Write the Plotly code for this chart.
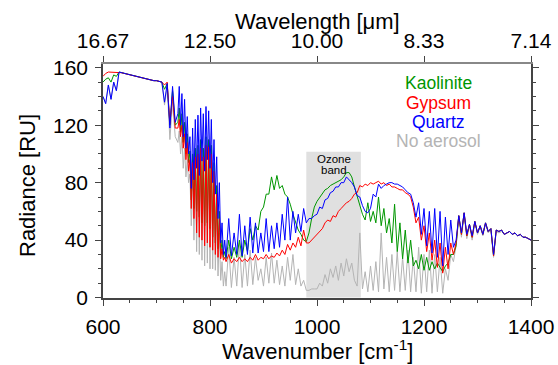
import plotly.graph_objects as go

# Wavenumber sampling grid (cm^-1): 5 cm^-1 steps, 2.5 cm^-1 in the dense 740-830 band
WAVENUMBER = (list(range(600, 740, 5))
              + [740 + 2.5 * k for k in range(36)]
              + list(range(830, 1401, 5)))

QUARTZ = [
    # 600-735
    140, 135, 148, 138, 150, 144, 157, 156.5, 156, 155.5,
    155, 154.5, 154, 153.5, 153, 152.5, 152, 152, 151.5, 151,
    151, 150.5, 150, 136, 149, 118, 147, 122,
    # 740-827.5
    128, 147, 120, 142, 112, 138, 104, 126, 100, 112,
    76, 118, 82, 124, 90, 127, 85, 132, 95, 128,
    88, 133, 96, 130, 90, 124, 80, 110, 72, 98,
    55, 80, 38, 52, 30, 40,
    # 830-1400
    28, 55, 29, 45,
    30, 58, 29, 50, 30, 56, 31, 52, 31, 45,
    32, 55, 32, 50, 34, 52, 35, 58, 40, 70,
    40, 60, 45, 58, 46, 62, 52, 55, 55, 57,
    58, 63, 62, 68, 69, 73, 74, 77, 77, 80,
    80, 84, 82, 80, 77, 71, 70, 64, 60, 59,
    62, 72, 70, 79, 76, 78, 79, 80, 80, 79,
    79, 78, 77, 75, 73, 72, 66, 56, 66, 44,
    62, 36, 60, 31, 62, 28, 60, 22, 56, 30,
    54, 35, 40, 57, 45, 59, 44, 51, 43, 53,
    45, 50, 44, 52, 46, 48, 30, 47, 46, 47,
    44, 45, 46, 44, 45, 43, 44, 42, 42, 41,
    40,
]

GYPSUM = [
    # 600-735
    154, 156, 157, 157, 157, 157, 157, 156.5, 156, 155.5,
    155, 154.5, 154, 153.5, 153, 152.5, 152, 152, 151.5, 151,
    151, 150.5, 150, 148, 150, 121, 140, 118,
    # 740-827.5
    118, 124, 112, 120, 104, 114, 96, 108, 88, 96,
    62, 94, 55, 98, 45, 100, 42, 104, 40, 98,
    36, 106, 38, 105, 35, 100, 33, 88, 30, 72,
    28, 55, 27, 34, 26, 28,
    # 830-1400
    25, 30, 24, 27,
    25, 28, 25, 27, 25, 28, 26, 30, 26, 28,
    27, 30, 27, 29, 28, 31, 29, 33, 30, 37,
    33, 38, 35, 42, 36, 47, 38, 38, 40, 42,
    44, 46, 48, 52, 54, 53, 57, 56, 60, 62,
    64, 66, 67, 69, 72, 73, 78, 77, 79, 78,
    80, 79, 80, 81, 79, 80, 78, 79, 77, 77,
    76, 75, 75, 73, 72, 70, 63, 52, 56, 40,
    50, 32, 45, 26, 40, 21, 38, 17, 35, 20,
    38, 30, 38, 57, 44, 59, 43, 51, 42, 53,
    45, 50, 44, 52, 46, 48, 29, 47, 46, 47,
    44, 45, 46, 44, 45, 43, 44, 42, 42, 41,
    40,
]

KAOLINITE = [
    # 600-735
    150, 152, 153, 150, 155, 154, 157, 156.5, 156, 155.5,
    155, 154.5, 154, 153.5, 153, 152.5, 152, 152, 151.5, 151,
    151, 150.5, 150, 145, 149, 120, 144, 120,
    # 740-827.5
    122, 132, 115, 128, 108, 122, 100, 114, 94, 102,
    68, 100, 62, 104, 60, 106, 56, 110, 52, 104,
    50, 112, 52, 110, 48, 106, 42, 94, 38, 78,
    34, 60, 30, 40, 28, 32,
    # 830-1400
    27, 40, 27, 35,
    28, 40, 28, 40, 32, 48, 40, 50, 47, 60,
    63, 72, 72, 84, 75, 85, 76, 78, 72, 70,
    65, 58, 52, 47, 44, 40, 39, 45, 55, 63,
    67, 70, 73, 75, 76, 78, 79, 80, 81, 82,
    84, 87, 87, 84, 77, 70, 64, 58, 54, 66,
    53, 60, 52, 70, 50, 62, 45, 55, 38, 65,
    32, 52, 27, 47, 24, 40, 22, 26, 20, 30,
    19, 28, 19, 25, 20, 24, 21, 18, 22, 24,
    30, 30, 36, 57, 44, 59, 43, 51, 42, 53,
    45, 50, 44, 52, 46, 48, 29, 47, 46, 47,
    44, 45, 46, 44, 45, 43, 44, 42, 42, 41,
    40,
]

NO_AEROSOL = [
    # 600-735
    140, 135, 148, 138, 150, 144, 157, 156.5, 156, 155.5,
    155, 154.5, 154, 153.5, 153, 152.5, 152, 152, 151.5, 151,
    151, 150.5, 150, 134, 147, 110, 136, 112,
    # 740-827.5
    108, 116, 100, 112, 90, 104, 84, 96, 80, 86,
    50, 82, 40, 88, 32, 90, 30, 95, 26, 88,
    22, 96, 24, 94, 20, 90, 20, 76, 19, 60,
    15, 45, 12, 25, 8, 18,
    # 830-1400
    8, 35, 7, 28,
    8, 38, 7, 30, 8, 33, 9, 28, 12, 20,
    8, 28, 10, 31, 10, 26, 9, 22, 8, 28,
    12, 30, 9, 20, 8, 12, 5, 5, 6, 6,
    6, 10, 8, 16, 10, 20, 14, 22, 12, 24,
    15, 27, 18, 24, 12, 8, 45, 6, 18, 4,
    22, 5, 25, 4, 45, 6, 28, 4, 30, 5,
    32, 4, 28, 5, 33, 4, 28, 4, 35, 3,
    30, 4, 33, 3, 30, 4, 28, 3, 20, 12,
    30, 25, 36, 56, 42, 58, 41, 50, 40, 52,
    44, 49, 43, 51, 45, 47, 28, 46, 45, 46,
    44, 45, 46, 44, 45, 43, 44, 42, 42, 41,
    40,
]

X_TICKS = [600, 800, 1000, 1200, 1400]
Y_TICKS = [0, 40, 80, 120, 160]
OZONE_BAND = [980, 1082]
OZONE_TOP = 101.5

SERIES = [
    ("No aerosol", NO_AEROSOL, "#b4b4b4"),
    ("Kaolinite", KAOLINITE, "#009600"),
    ("Gypsum", GYPSUM, "#ff0000"),
    ("Quartz", QUARTZ, "#0000ff"),
]

FONT = "Liberation Sans, Arial, sans-serif"

fig = go.Figure()
for name, vals, col in SERIES:
    fig.add_trace(go.Scatter(x=WAVENUMBER, y=vals, mode="lines", name=name,
                             line=dict(color=col, width=1), showlegend=False))
# dummy trace so the top (wavelength) axis is drawn
fig.add_trace(go.Scatter(x=[X_TICKS[0], X_TICKS[-1]], y=[None, None], xaxis="x2",
                         mode="lines", showlegend=False, hoverinfo="skip"))

fig.add_shape(type="rect", xref="x", yref="y", x0=OZONE_BAND[0], x1=OZONE_BAND[1],
              y0=0, y1=OZONE_TOP, fillcolor="#e0e0e0", line=dict(width=0), layer="below")

axis_common = dict(showgrid=False, zeroline=False, ticks="outside", ticklen=6,
                   tickcolor="#444", automargin=False,
                   tickfont=dict(family=FONT, size=21, color="black"))

fig.update_layout(
    width=558, height=365,
    margin=dict(l=103, r=27, t=64, b=67),
    paper_bgcolor="white", plot_bgcolor="white",
    showlegend=False,
    xaxis=dict(range=[600, 1400], tickvals=X_TICKS, showline=True, linecolor="#444",
               linewidth=1.5, ticklabelstandoff=3,
               minor=dict(dtick=50, ticklen=3, ticks="outside", tickcolor="#444"),
               **axis_common),
    xaxis2=dict(range=[600, 1400], overlaying="x", side="top", tickvals=X_TICKS,
                ticktext=[f"{1e4 / w:.2f}" for w in X_TICKS], showline=True,
                linecolor="#888", linewidth=2, **axis_common),
    yaxis=dict(range=[-0.3, 162.6], tickvals=Y_TICKS, showline=True, linecolor="#444",
               linewidth=1.5, mirror="ticks", ticklabelstandoff=3,
               minor=dict(dtick=10, ticklen=3, ticks="outside", tickcolor="#444"),
               **axis_common),
)

ann = []
ann.append(dict(text="Wavenumber [cm<sup>-1</sup>]", xref="paper", yref="paper",
                x=0.5, y=(298 - 350) / 234, showarrow=False, xanchor="center",
                yanchor="middle", font=dict(family=FONT, size=22, color="black")))
ann.append(dict(text="Wavelength [\u03bcm]", xref="paper", yref="paper",
                x=0.5, y=(298 - 21) / 234, showarrow=False, xanchor="center",
                yanchor="middle", font=dict(family=FONT, size=22, color="black")))
ann.append(dict(text="Radiance [RU]", xref="paper", yref="paper",
                x=(27 - 103) / 428, y=(298 - 186) / 234, showarrow=False, textangle=-90,
                xanchor="center", yanchor="middle",
                font=dict(family=FONT, size=22, color="black")))
legend_y = [83, 103, 122, 141]
for (name, _, col), py in zip([SERIES[1], SERIES[2], SERIES[3], SERIES[0]], legend_y):
    ann.append(dict(text=name, xref="paper", yref="paper", x=(438 - 103) / 428,
                    y=(298 - py) / 234, showarrow=False, xanchor="center", yanchor="middle",
                    font=dict(family=FONT, size=17.5, color=col)))
mid = (OZONE_BAND[0] + OZONE_BAND[1]) / 2
ann.append(dict(text="Ozone", xref="x", yref="y", x=mid, y=96.8, showarrow=False,
                xanchor="center", yanchor="middle", font=dict(family=FONT, size=11.5, color="black")))
ann.append(dict(text="band", xref="x", yref="y", x=mid, y=88.6, showarrow=False,
                xanchor="center", yanchor="middle", font=dict(family=FONT, size=11.5, color="black")))
fig.update_layout(annotations=ann)

fig.write_html("out.html")
